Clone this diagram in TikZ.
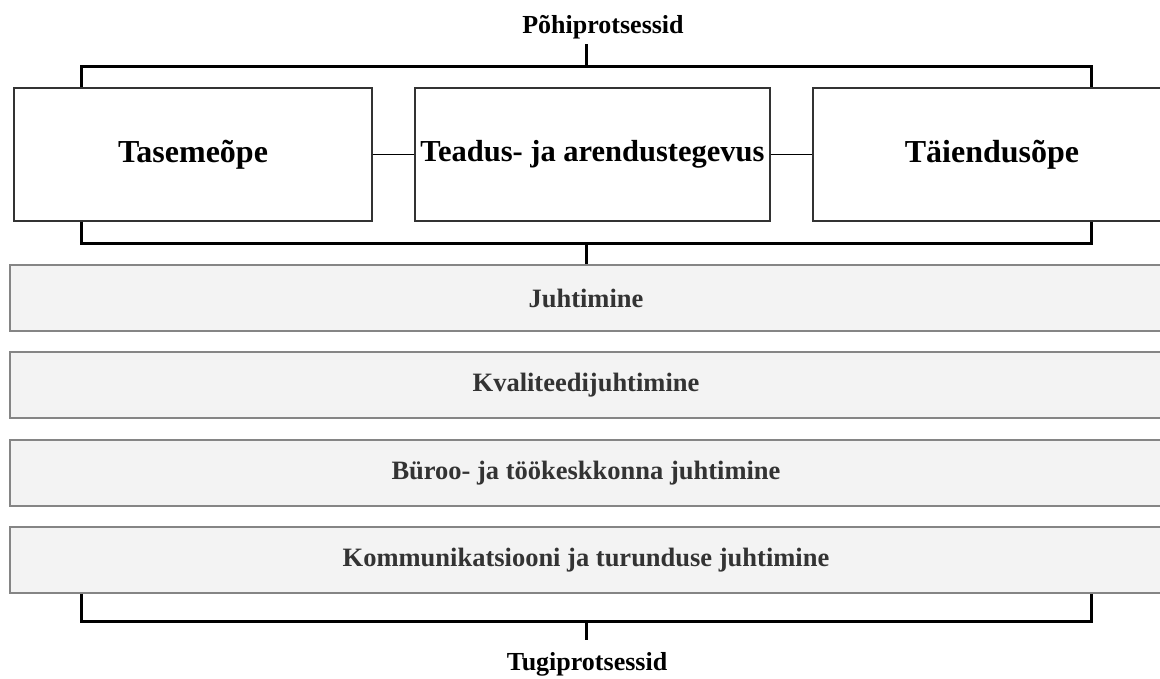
\documentclass[tikz,border=0pt]{standalone}
\usepackage{fontspec}
\setmainfont{Liberation Serif}
\definecolor{boxline}{HTML}{333333}
\definecolor{supfill}{HTML}{F3F3F3}
\definecolor{supline}{HTML}{858585}
\definecolor{suptext}{HTML}{333333}
\begin{document}
\begin{tikzpicture}[x=1pt,y=-1pt,
  mainbox/.style={draw=boxline, line width=1.4pt, fill=white,
    minimum width=358pt, minimum height=133pt, inner sep=0pt,
    font=\bfseries\fontsize{32}{38}\selectfont},
  supbox/.style={draw=supline, line width=1.6pt, fill=supfill,
    minimum width=1152pt, minimum height=66pt, inner sep=0pt,
    text=suptext, font=\bfseries\fontsize{26.5}{32}\selectfont},
  heading/.style={inner sep=0pt, anchor=base,
    font=\bfseries\fontsize{26}{31}\selectfont},
  bracket/.style={line width=3pt, line join=miter},
  link/.style={line width=1.6pt, draw=black}]
\useasboundingbox (0,0) rectangle (1160,678);

% core processes
\node[heading] (pohi) at (603,33) {Põhiprotsessid};
\node[mainbox] (tase) at (193,154.5) {Tasemeõpe};
\node[mainbox, minimum width=355pt, font=\bfseries\fontsize{30.5}{36}\selectfont]
  (teadus) at (592.5,154.5) {Teadus- ja arendustegevus};
\node[mainbox] (taiend) at (992,154.5) {Täiendusõpe};

\draw[link] (tase.east) -- (teadus.west);
\draw[link] (teadus.east) -- (taiend.west);

% support processes
\node[supbox] (juht) at (586,298) {Juhtimine};
\node[supbox] (kval) at (586,385) {Kvaliteedijuhtimine};
\node[supbox] (byroo) at (586,473) {Büroo- ja töökeskkonna juhtimine};
\node[supbox] (komm) at (586,560) {Kommunikatsiooni ja turunduse juhtimine};
\node[heading] (tugi) at (587,670) {Tugiprotsessid};

% brackets
\coordinate (topL) at (81,66);
\coordinate (topR) at (1091,66);
\coordinate (topT) at (586,44);
\coordinate (midL) at (81,243);
\coordinate (midR) at (1091,243);
\coordinate (botL) at (81,621);
\coordinate (botR) at (1091,621);
\coordinate (botT) at (586,640);

\draw[bracket] (tase.north -| topL) -- (topL) -- (topR) -- (taiend.north -| topR);
\draw[bracket] (topT) -- (topT |- topL);

\draw[bracket] (tase.south -| midL) -- (midL) -- (midR) -- (taiend.south -| midR);
\draw[bracket] (juht.north -| topT) -- (topT |- midL);

\draw[bracket] (komm.south -| botL) -- (botL) -- (botR) -- (komm.south -| botR);
\draw[bracket] (botT |- botL) -- (botT);
\end{tikzpicture}
\end{document}
